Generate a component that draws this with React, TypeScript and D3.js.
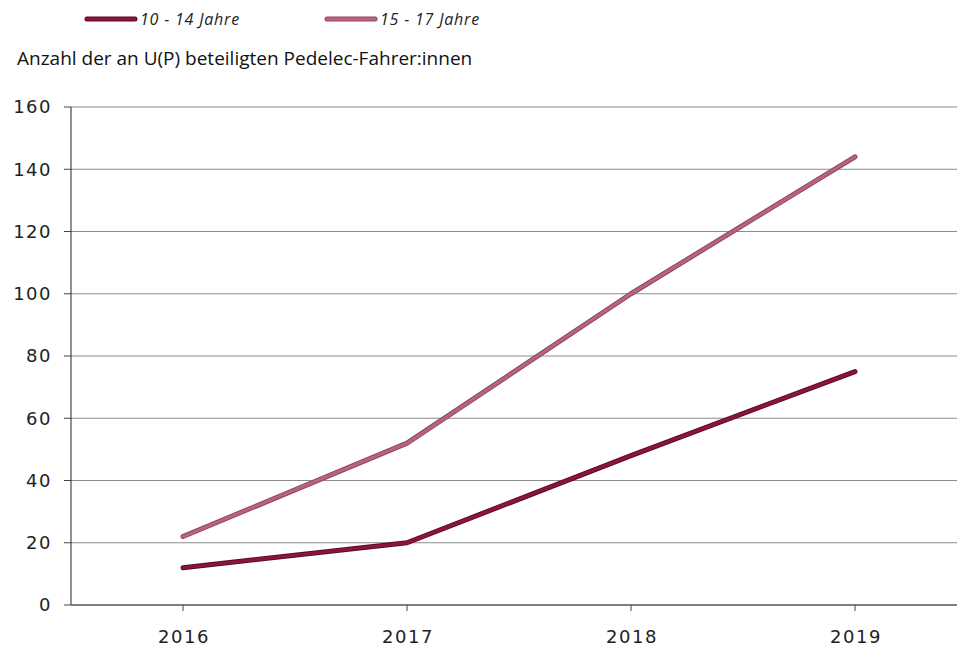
import React from "react";
import * as d3 from "d3";

const years = ["2016", "2017", "2018", "2019"];
const series1 = [12, 20, 48, 75];
const series2 = [22, 52, 100, 144];
const seriesNames = ["10 - 14 Jahre", "15 - 17 Jahre"];
const yTicks = [0, 20, 40, 60, 80, 100, 120, 140, 160];
const title = "Anzahl der an U(P) beteiligten Pedelec-Fahrer:innen";

const W = 957, H = 651;
const left = 71, top = 107, bottom = 605;

export default function App() {
  const x = d3.scalePoint<string>().domain(years).range([left, left + 896]).padding(0.5);
  const y = d3.scaleLinear().domain([0, 160]).range([bottom, top]);
  const line = d3.line<number>().x((_, i) => x(years[i])!).y((d) => y(d));
  const series = [
    { name: seriesNames[0], data: series1, outer: "#5e0a2a", inner: "#8a1540" },
    { name: seriesNames[1], data: series2, outer: "#8c4862", inner: "#b9637f" },
  ];
  const legendX = [87, 327];
  return (
    <svg width={W} height={H} style={{ position: "absolute", left: 0, top: 0 }}>
      <rect width={W} height={H} fill="#fff" />
      {series.map((s, i) => (
        <g key={s.name}>
          <line x1={legendX[i]} x2={legendX[i] + 48} y1={19} y2={19} stroke={s.outer} strokeWidth={5} strokeLinecap="round" />
          <line x1={legendX[i]} x2={legendX[i] + 48} y1={19} y2={19} stroke={s.inner} strokeWidth={3} strokeLinecap="round" />
          <text x={legendX[i] + 53} y={25} fontFamily="Open Sans, sans-serif" fontStyle="italic" fontSize={16} letterSpacing={0.8} fill="#222">{s.name}</text>
        </g>
      ))}
      <text x={17} y={65} fontFamily="Open Sans, sans-serif" fontSize={19} fill="#111">{title}</text>
      {yTicks.map((t) => (
        <g key={t}>
          {t > 0 && <line x1={left} x2={W} y1={y(t)} y2={y(t)} stroke="#8c8c8c" strokeWidth={1} />}
          <line x1={left - 7} x2={left} y1={y(t)} y2={y(t)} stroke="#444" strokeWidth={1} />
          <text x={left - 19} y={y(t)} dy="0.36em" textAnchor="end" fontFamily="DejaVu Sans, sans-serif" fontSize={18} letterSpacing={1.5} fill="#222">{t}</text>
        </g>
      ))}
      <line x1={left} x2={left} y1={top} y2={bottom} stroke="#222" strokeWidth={1} />
      <line x1={left} x2={W} y1={bottom} y2={bottom} stroke="#555" strokeWidth={1.5} />
      {years.map((yr) => (
        <g key={yr}>
          <line x1={x(yr)} x2={x(yr)} y1={bottom} y2={bottom + 6} stroke="#444" strokeWidth={1} />
          <text x={x(yr)! + 1} y={643} textAnchor="middle" fontFamily="DejaVu Sans, sans-serif" fontSize={18} letterSpacing={1.5} fill="#222">{yr}</text>
        </g>
      ))}
      {series.map((s) => (
        <g key={s.name}>
          <path d={line(s.data)!} fill="none" stroke={s.outer} strokeWidth={5} strokeLinecap="round" strokeLinejoin="round" />
          <path d={line(s.data)!} fill="none" stroke={s.inner} strokeWidth={3} strokeLinecap="round" strokeLinejoin="round" />
        </g>
      ))}
    </svg>
  );
}
